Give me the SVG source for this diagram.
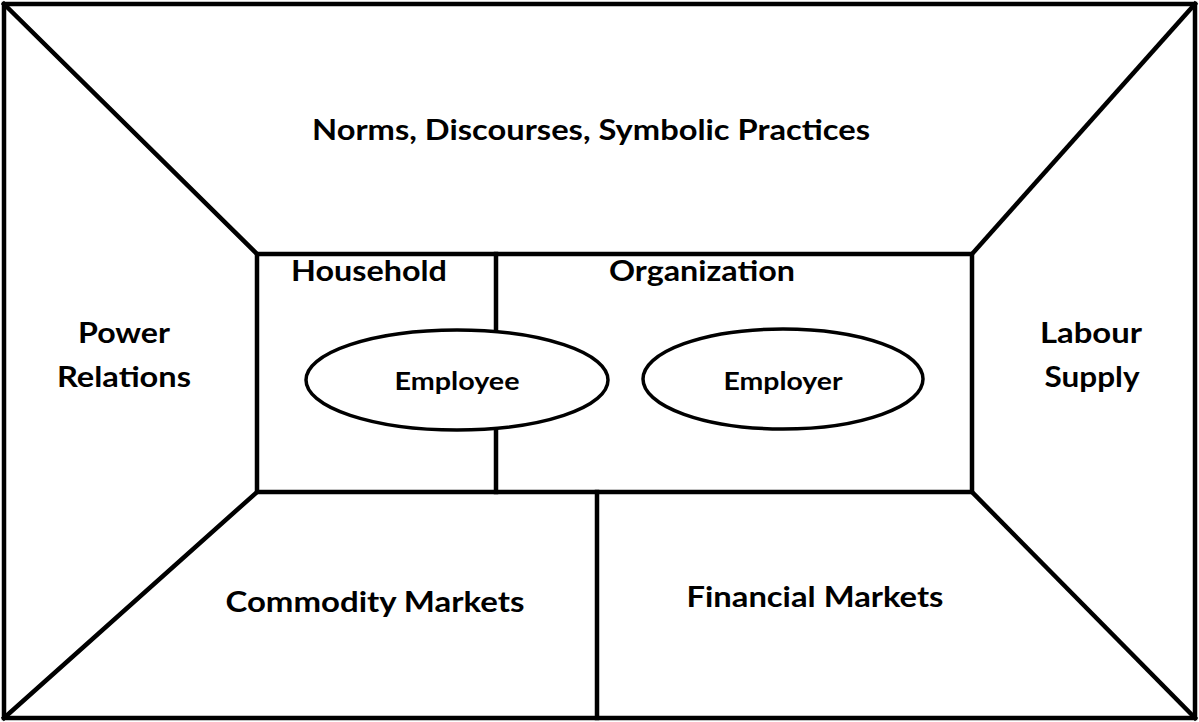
<svg xmlns="http://www.w3.org/2000/svg" width="1199" height="722" viewBox="0 0 1199 722">
<style>
.ln{stroke:#000;stroke-width:4.5;fill:none;stroke-linecap:square}
.el{stroke:#000;stroke-width:3.5;fill:#fff}
.t{font-family:Lato,"Open Sans","Liberation Sans",sans-serif;font-weight:bold;font-size:28px;fill:#000;text-anchor:middle}
</style>
<rect width="1199" height="722" fill="#fff"/>
<g id="connectors">
<rect class="ln" x="4" y="4" width="1191" height="714"/>
<line class="ln" x1="4" y1="4" x2="257" y2="254"/>
<line class="ln" x1="1195" y1="4" x2="972" y2="254"/>
<line class="ln" x1="4" y1="718" x2="257" y2="492"/>
<line class="ln" x1="1195" y1="718" x2="972" y2="492"/>
<rect class="ln" x="257" y="254" width="715" height="238"/>
<line class="ln" x1="496" y1="254" x2="496" y2="492"/>
<line class="ln" x1="597" y1="492" x2="597" y2="718"/>
</g>
<g id="norms"><text class="t" x="591" y="140" textLength="558" lengthAdjust="spacingAndGlyphs">Norms, Discourses, Symbolic Practices</text></g>
<g id="power"><text class="t" x="124" y="343" textLength="92" lengthAdjust="spacingAndGlyphs">Power</text><text class="t" x="124" y="387" textLength="134" lengthAdjust="spacingAndGlyphs">Relations</text></g>
<g id="labour"><text class="t" x="1091" y="343" textLength="102" lengthAdjust="spacingAndGlyphs">Labour</text><text class="t" x="1092" y="387" textLength="95" lengthAdjust="spacingAndGlyphs">Supply</text></g>
<g id="household"><text class="t" x="369" y="281" textLength="156" lengthAdjust="spacingAndGlyphs">Household</text></g>
<g id="organization"><text class="t" x="702" y="281" textLength="186" lengthAdjust="spacingAndGlyphs">Organization</text></g>
<g id="employee"><ellipse class="el" cx="457" cy="380" rx="151" ry="50"/><text class="t" x="457" y="390" font-size="24" style="font-size:24px" textLength="125" lengthAdjust="spacingAndGlyphs">Employee</text></g>
<g id="employer"><ellipse class="el" cx="783" cy="379" rx="140" ry="50"/><text class="t" x="783" y="390" style="font-size:24px" textLength="119" lengthAdjust="spacingAndGlyphs">Employer</text></g>
<g id="commodity"><text class="t" x="375" y="612" textLength="299" lengthAdjust="spacingAndGlyphs">Commodity Markets</text></g>
<g id="financial"><text class="t" x="815" y="607" textLength="257" lengthAdjust="spacingAndGlyphs">Financial Markets</text></g>
</svg>
